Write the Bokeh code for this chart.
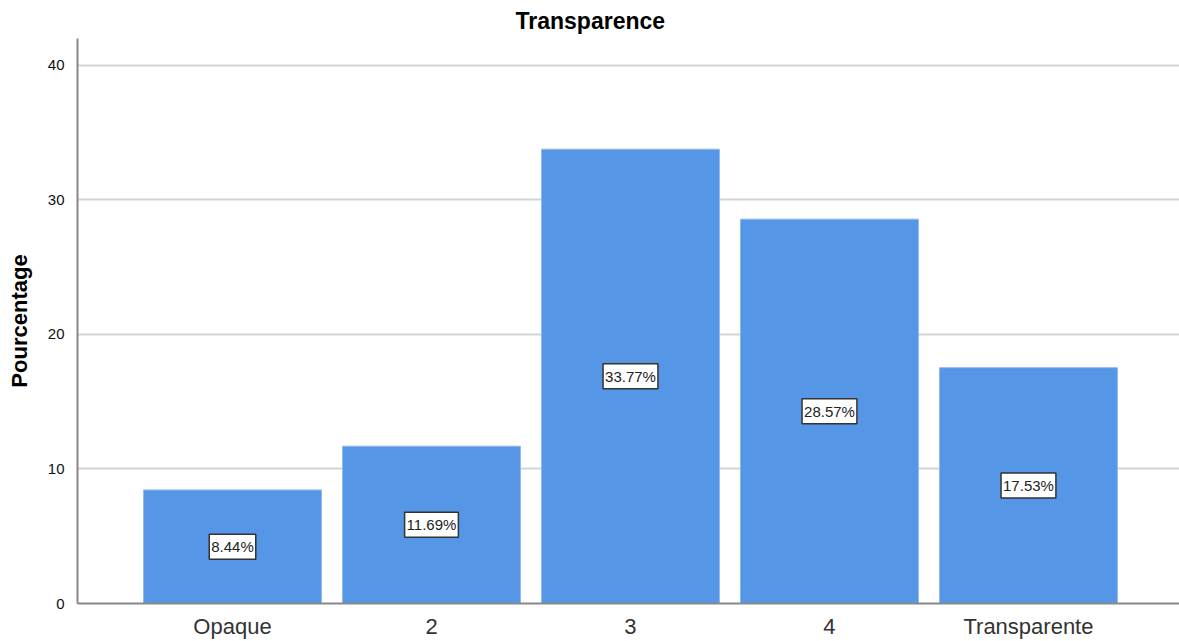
from bokeh.plotting import figure
from bokeh.models import ColumnDataSource, FixedTicker, Range1d
from bokeh.core.properties import value
from bokeh.embed import file_html
from bokeh.resources import INLINE

categories = ["Opaque", "2", "3", "4", "Transparente"]
values = [8.44, 11.69, 33.77, 28.57, 17.53]
y_ticks = [0, 10, 20, 30, 40]

xs = list(range(1, len(categories) + 1))
src = ColumnDataSource(dict(
    x=xs,
    top=values,
    mid=[v / 2 for v in values],
    lab=[f"{v:.2f}%" for v in values],
))

p = figure(width=1179, height=641, output_backend="svg", toolbar_location=None,
           x_range=Range1d(0.221, 5.759), y_range=Range1d(0, 42),
           min_border_left=77, min_border_right=0, min_border_top=37, min_border_bottom=37)

p.title.text = "Transparence"
p.title.align = "left"
p.title.offset = 438
p.title.text_font = "Liberation Sans"
p.title.text_font_size = "23px"
p.title.text_font_style = "bold"
p.title.text_color = "#000000"

p.vbar(x="x", top="top", width=0.894, source=src,
       fill_color="#5596e6", line_color="#8fb8ee", line_width=1)

p.text(x="x", y="mid", text="lab", source=src,
       text_align="center", text_baseline="middle",
       text_font=value("Liberation Sans"), text_font_size="15px", text_color="#222222",
       background_fill_color="white", border_line_color="#333333",
       border_line_width=1.5, padding=(2, 4))

p.xaxis.ticker = FixedTicker(ticks=xs)
p.xaxis.major_label_overrides = {x: c for x, c in zip(xs, categories)}
p.xaxis.major_label_text_font = "Liberation Sans"
p.xaxis.major_label_text_font_size = "22px"
p.xaxis.major_label_text_color = "#333333"
p.xaxis.major_label_standoff = 4
p.xaxis.major_tick_line_color = None
p.xaxis.minor_tick_line_color = None
p.xaxis.axis_line_color = "#888888"
p.xaxis.axis_line_width = 2

p.yaxis.ticker = FixedTicker(ticks=y_ticks)
p.yaxis.major_label_text_font = "Liberation Sans"
p.yaxis.major_label_text_font_size = "15px"
p.yaxis.major_label_text_color = "#111111"
p.yaxis.major_label_standoff = 7
p.yaxis.major_tick_line_color = None
p.yaxis.minor_tick_line_color = None
p.yaxis.axis_line_color = "#888888"
p.yaxis.axis_line_width = 2
p.yaxis.axis_label = "Pourcentage"
p.yaxis.axis_label_standoff = 13
p.yaxis.axis_label_text_font = "Liberation Sans"
p.yaxis.axis_label_text_font_size = "22px"
p.yaxis.axis_label_text_font_style = "bold"
p.yaxis.axis_label_text_color = "#000000"

p.xgrid.grid_line_color = None
p.ygrid.ticker = FixedTicker(ticks=y_ticks)
p.ygrid.grid_line_color = "#d4d4d4"
p.ygrid.grid_line_width = 2
p.outline_line_color = None

open("out.html", "w").write(file_html(p, INLINE))
